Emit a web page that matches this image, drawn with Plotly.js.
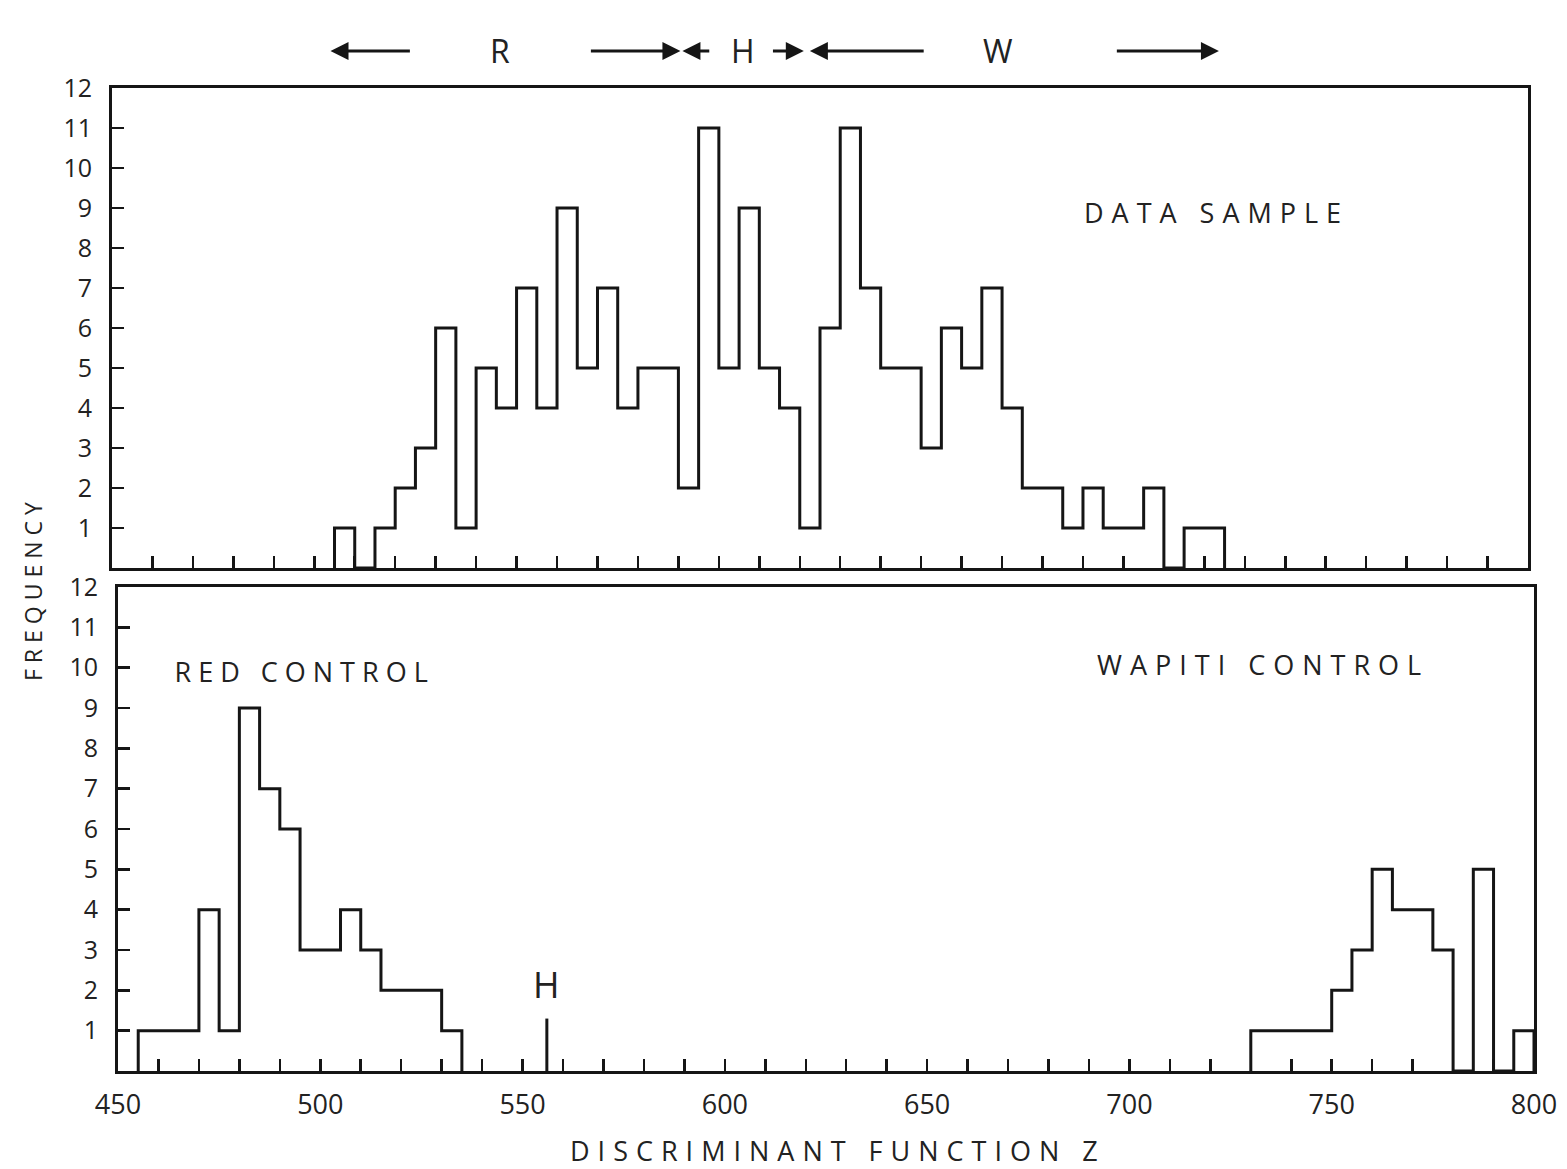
<!DOCTYPE html>
<html>
<head>
<meta charset="utf-8">
<script src="https://cdn.plot.ly/plotly-3.0.1.min.js"></script>
<style>html,body{margin:0;padding:0;background:#fff;}</style>
</head>
<body>
<div id="chart" style="width:1567px;height:1169px;"></div>
<script>
// ---- data ----
const binWidth = 5;
const sampleBinStarts = [505,510,515,520,525,530,535,540,545,550,555,560,565,570,575,580,585,590,595,600,605,610,615,620,625,630,635,640,645,650,655,660,665,670,675,680,685,690,695,700,705,710,715,720];
const sampleCounts    = [1,0,1,2,3,6,1,5,4,7,4,9,5,7,4,5,5,2,11,5,9,5,4,1,6,11,7,5,5,3,6,5,7,4,2,2,1,2,1,1,2,0,1,1];
const redBinStarts = [455,460,465,470,475,480,485,490,495,500,505,510,515,520,525,530];
const redCounts    = [1,1,1,4,1,9,7,6,3,3,4,3,2,2,2,1];
const wapitiBinStarts = [730,735,740,745,750,755,760,765,770,775,780,785,790,795];
const wapitiCounts    = [1,1,1,1,2,3,5,4,4,3,0,5,0,1];
const hybridMarkerX = [556, 556];
const hybridMarkerY = [0, 1.3];
const xLabelValues = [450,500,550,600,650,700,750,800];
const xLabelTexts  = ["450","500","550","600","650","700","750","800"];
const yTickValues  = [1,2,3,4,5,6,7,8,9,10,11,12];
const regionLetters = ["R","H","W"];
const regionCenters = [546,606,669];
// arrows: [tip, tail] on the discriminant scale
const regionArrows = [[504,524],[590.5,568],[591,598],[621,613],[622.5,651],[723.6,698]];

// ---- helpers ----
function stepXY(starts, counts, w){
  const x=[starts[0]], y=[0];
  for(let i=0;i<starts.length;i++){ x.push(starts[i]); y.push(counts[i]); }
  x.push(starts[starts.length-1]+w); y.push(0);
  return {x, y};
}
const INK = '#151515';
const FONT = 'Open Sans, Liberation Sans, sans-serif';
const lineStyle = {color: INK, width: 3, shape: 'hv'};

const s = stepXY(sampleBinStarts, sampleCounts, binWidth);
const r = stepXY(redBinStarts, redCounts, binWidth);
const w = stepXY(wapitiBinStarts, wapitiCounts, binWidth);

const traces = [
  {x: s.x, y: s.y, xaxis:'x', yaxis:'y', mode:'lines', line: lineStyle, hoverinfo:'skip', showlegend:false},
  {x: r.x, y: r.y, xaxis:'x2', yaxis:'y2', mode:'lines', line: lineStyle, hoverinfo:'skip', showlegend:false},
  {x: w.x, y: w.y, xaxis:'x2', yaxis:'y2', mode:'lines', line: lineStyle, hoverinfo:'skip', showlegend:false},
  {x: hybridMarkerX, y: hybridMarkerY, xaxis:'x2', yaxis:'y2', mode:'lines', line:{color: INK, width: 3}, hoverinfo:'skip', showlegend:false}
];

const W = 1567, H = 1169;
const minorTicks = [];
for (let v = 460; v <= 790; v += 10) minorTicks.push(v);

const axisCommon = {
  showgrid:false, zeroline:false, showline:true, mirror:true,
  linecolor: INK, linewidth: 3, ticks:'inside', ticklen: 12, tickwidth: 2.5, tickcolor: INK,
  tickfont: {family: FONT, size: 25, color: '#222'}, fixedrange: true
};

const layout = {
  width: W, height: H,
  margin: {l:0, r:0, t:0, b:0},
  paper_bgcolor: '#fff', plot_bgcolor: '#fff',
  showlegend: false,
  xaxis: Object.assign({}, axisCommon, {
    domain: [112/W, 1528/W], range: [450, 800], anchor: 'y',
    tickmode: 'array', tickvals: minorTicks, showticklabels: false
  }),
  yaxis: Object.assign({}, axisCommon, {
    domain: [1-568/H, 1-88/H], range: [0, 12], anchor: 'x',
    tickmode: 'array', tickvals: yTickValues, ticklabelstandoff: 12
  }),
  xaxis2: Object.assign({}, axisCommon, {
    domain: [118/W, 1534/W], range: [450, 800], anchor: 'y2',
    tickmode: 'array', tickvals: xLabelValues, ticktext: xLabelTexts, ticklen: 0,
    ticklabelstandoff: 8, tickfont: {family: FONT, size: 27, color: '#222'},
    minor: {tickmode: 'array', tickvals: minorTicks, ticks: 'inside', ticklen: 12, tickwidth: 2.5, tickcolor: INK, showgrid:false}
  }),
  yaxis2: Object.assign({}, axisCommon, {
    domain: [1-1071/H, 1-587/H], range: [0, 12], anchor: 'x2',
    tickmode: 'array', tickvals: yTickValues, ticklabelstandoff: 12
  }),
  annotations: []
};

const ann = layout.annotations;
const labelFont = (size) => ({family: FONT, size: size, color: '#222'});
const centered = {xanchor:'center', yanchor:'middle', showarrow:false};
// panel labels
ann.push(Object.assign({text:'DATA SAMPLE', xref:'x', yref:'y', x: 723, y: 8.9, font: labelFont(27), _ls: 8}, centered));
ann.push(Object.assign({text:'RED CONTROL', xref:'x2', yref:'y2', x: 496, y: 9.9, font: labelFont(27), _ls: 7}, centered));
ann.push(Object.assign({text:'WAPITI CONTROL', xref:'x2', yref:'y2', x: 733, y: 10.07, font: labelFont(27), _ls: 8}, centered));
ann.push(Object.assign({text:'H', xref:'x2', yref:'y2', x: hybridMarkerX[0], y: 2.15, font: labelFont(36), _ls: 0}, centered));
// axis titles
ann.push(Object.assign({text:'DISCRIMINANT FUNCTION Z', xref:'paper', yref:'paper', x: 838/W, y: 1-1150/H, font: labelFont(27), _ls: 8}, centered));
ann.push(Object.assign({text:'FREQUENCY', xref:'paper', yref:'paper', x: 33/W, y: 1-589/H, textangle: -90, font: labelFont(23), _ls: 6}, centered));
// region letters on top
regionLetters.forEach((t,i)=>{
  ann.push(Object.assign({text:t, xref:'x', yref:'paper', x: regionCenters[i], y: 1-51/H, font: labelFont(32), _ls: 0}, centered));
});
// region arrows
regionArrows.forEach(([tip, tail])=>{
  ann.push({text:'', xref:'x', yref:'paper', x: tip, y: 1-51/H, axref:'x', ax: tail, ayref:'pixel', ay: 0,
    showarrow:true, arrowhead:2, arrowsize:1.2, arrowwidth:3, arrowcolor: INK, standoff:0, startstandoff:0});
});

const spacing = ann.map(a => a._ls || 0);
ann.forEach(a => { delete a._ls; });

Plotly.newPlot('chart', traces, layout, {staticPlot: true, displayModeBar: false}).then(()=>{
  document.querySelectorAll('g.annotation').forEach(g=>{
    const idx = +g.getAttribute('data-index');
    const ls = spacing[idx];
    if (ls) {
      const t = g.querySelector('text.annotation-text');
      if (t) t.style.letterSpacing = ls + 'px';
    }
  });
});
</script>
</body>
</html>
